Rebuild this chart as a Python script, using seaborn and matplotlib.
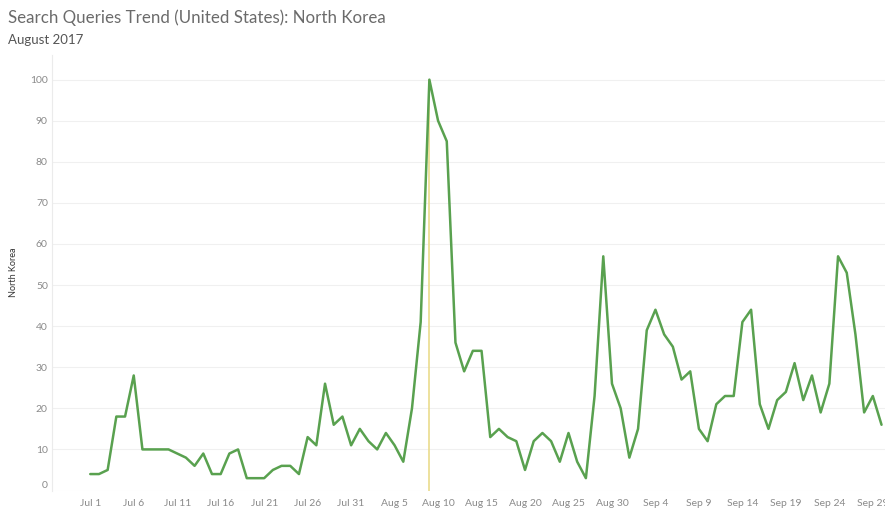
import numpy as np
import pandas as pd
import matplotlib
matplotlib.use("Agg")
import matplotlib.pyplot as plt
import matplotlib.transforms as mtransforms
import seaborn as sns

start_date = "2017-07-01"
july = [4, 4, 5, 18, 18, 28, 10, 10, 10, 10, 9, 8, 6, 9, 4, 4, 9, 10, 3, 3,
        3, 5, 6, 6, 4, 13, 11, 26, 16, 18, 11]
august = [15, 12, 10, 14, 11, 7, 20, 41, 100, 90, 85, 36, 29, 34, 34, 13, 15, 13, 12, 5,
          12, 14, 12, 7, 14, 7, 3, 23, 57, 26, 20]
september = [8, 15, 39, 44, 38, 35, 27, 29, 15, 12, 21, 23, 23, 41, 44, 21, 15, 22, 24, 31,
             22, 28, 19, 26, 57, 53, 38, 19, 23, 16]
values = july + august + september
dates = pd.date_range(start_date, periods=len(values), freq="D")
highlight_date = pd.Timestamp("2017-08-09")

df = pd.DataFrame({"date": dates, "North Korea": values})

sns.set_theme(style="white")
plt.rcParams["font.family"] = ["Lato", "DejaVu Sans"]

fig = plt.figure(figsize=(8.85, 5.09), dpi=100)
ax = fig.add_axes([52 / 885, 1 - 490.5 / 509, 1 - 52 / 885, (490.5 - 55) / 509])

ax.axvline(highlight_date, ymin=0, ymax=100 / 106, color="#eadb8c", lw=1.2, zorder=1)
sns.lineplot(data=df, x="date", y="North Korea", color="#59a14f", lw=1.8, ax=ax, zorder=3)

ax.set_ylim(0, 106)
ax.set_xlim(dates[0] - pd.Timedelta(days=4.4), dates[-1] + pd.Timedelta(days=0.4))
ax.set_yticks(range(0, 101, 10))
ticks = pd.date_range(start_date, "2017-09-30", freq="5D")
tick_labels = [f"{d:%b} {d.day}" for d in ticks]
ax.set_xticks(ticks)
ax.set_xticklabels(tick_labels)

ax.grid(axis="y", color="#f0f0f0", lw=0.8)
ax.grid(axis="x", visible=False)
for s in ["top", "right", "bottom"]:
    ax.spines[s].set_visible(False)
ax.spines["left"].set_color("#ebebeb")
ax.spines["left"].set_linewidth(0.8)
ax.tick_params(axis="both", length=0, labelsize=7.5, labelcolor="#8a8a8a")
ax.tick_params(axis="x", pad=6)
ax.tick_params(axis="y", pad=3)
ax.set_xlabel("")
ax.set_ylabel("North Korea", fontsize=6.5, color="#333333")
ax.yaxis.set_label_coords(-34 / 833, (490.5 - 272) / 435.5)

fig.canvas.draw()
zero_lbl = ax.get_yticklabels()[0]
zero_lbl.set_transform(zero_lbl.get_transform() +
                       mtransforms.ScaledTranslation(0, 6 / 100, fig.dpi_scale_trans))

fig.text(8 / 885, 1 - 18 / 509, "Search Queries Trend (United States): North Korea",
         fontsize=12.2, color="#6b6b6b", va="center", ha="left")
fig.text(8 / 885, 1 - 40 / 509, "August 2017", fontsize=9.5, color="#555555",
         va="center", ha="left")

fig.savefig("out.png", dpi=100)
